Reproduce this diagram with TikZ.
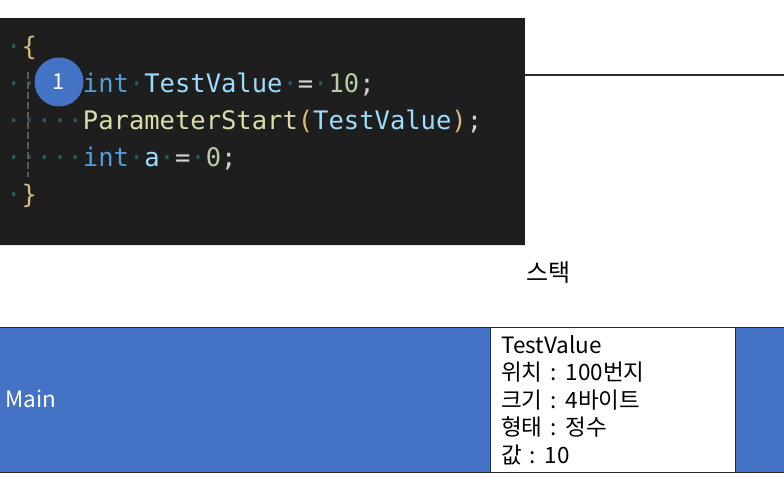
\documentclass[tikz,border=0pt]{standalone}
\usepackage{fontspec}
\setmainfont{Noto Sans CJK KR}[WordSpace=1.5]
\newfontfamily\codefont{DejaVu Sans Mono}
\usetikzlibrary{positioning}

\definecolor{codebg}{HTML}{1E1E1E}
\definecolor{kwblue}{HTML}{569CD6}
\definecolor{varblue}{HTML}{9CDCFE}
\definecolor{numgreen}{HTML}{B5CEA8}
\definecolor{fnyellow}{HTML}{DCDCAA}
\definecolor{opgrey}{HTML}{D4D4D4}
\definecolor{bracegold}{HTML}{D7BA7D}
\definecolor{wsdot}{HTML}{2B5B5E}
\definecolor{guidegrey}{HTML}{5A5A5A}
\definecolor{stackblue}{HTML}{4472C4}
\definecolor{stackline}{HTML}{2A2A2A}

\newcommand{\ws}{\textcolor{wsdot}{·}}

\tikzset{
    codeline/.style={anchor=base west, inner sep=0pt, font=\codefont\fontsize{25.5}{30}\selectfont},
    boxtext/.style={anchor=base west, inner sep=0pt, font=\fontsize{22.5}{27.5}\selectfont},
    stepmark/.style={circle, fill=stackblue, text=white, minimum size=49pt, inner sep=0pt, font=\fontsize{22}{22}\selectfont}
}

\begin{document}
\begin{tikzpicture}[x=1pt, y=-1pt]
    \useasboundingbox (0,0) rectangle (784,486);

    % Code window
    \node[fill=codebg, minimum width=525pt, minimum height=227pt, inner sep=0pt, anchor=north west] (code) at (0,18) {};
    \draw[opgrey!60] (code.south west) -- (code.south east);

    % Code lines
    \node[codeline] (line open) at (6,56) {\ws\textcolor{bracegold}{\{}};
    \node[codeline] (line one) at (6,93) {\ws\ws\ws\ws\ws\textcolor{kwblue}{int}\ws\textcolor{varblue}{TestValue}\ws\textcolor{opgrey}{=}\ws\textcolor{numgreen}{10}\textcolor{opgrey}{;}};
    \node[codeline] (line two) at (6,130) {\ws\ws\ws\ws\ws\textcolor{fnyellow}{ParameterStart}\textcolor{bracegold}{(}\textcolor{varblue}{TestValue}\textcolor{bracegold}{)}\textcolor{opgrey}{;}};
    \node[codeline] (line three) at (6,167) {\ws\ws\ws\ws\ws\textcolor{kwblue}{int}\ws\textcolor{varblue}{a}\ws\textcolor{opgrey}{=}\ws\textcolor{numgreen}{0}\textcolor{opgrey}{;}};
    \node[codeline] (line close) at (6,204) {\ws\textcolor{bracegold}{\}}};

    % Indent guide
    \draw[guidegrey, line width=1.2pt, dash pattern=on 7pt off 3pt] (28,72) -- (28,177);

    % Step marker
    \node[stepmark] (step one) at (59,82) {1};

    % Line to the right edge
    \coordinate (rim) at (784,75);
    \draw[stackline, line width=1.3pt] (code.north east |- rim) -- (rim);

    % Stack label
    \node[boxtext, font=\fontsize{24}{26}\selectfont] (stack title) at (526,281) {스택};

    % Stack frame
    \node[fill=stackblue, draw=stackline, line width=1pt, minimum width=790pt, minimum height=145pt, inner sep=0pt, anchor=north west] (main frame) at (-3,327) {};
    \node[boxtext, text=white] (main label) at (5.5,407.3) {Main};

    % Variable box
    \node[fill=white, draw=stackline, line width=1pt, minimum width=245pt, minimum height=145pt, inner sep=0pt, anchor=north west] (test value) at (489.5,327) {};
    \foreach \txt [count=\i] in {TestValue, 위치 : 100번지, 크기 : 4바이트, 형태 : 정수, 값 : 10}
        \node[boxtext] (value line \i) at (501,{325.5+27.5*\i}) {\txt};
\end{tikzpicture}
\end{document}
